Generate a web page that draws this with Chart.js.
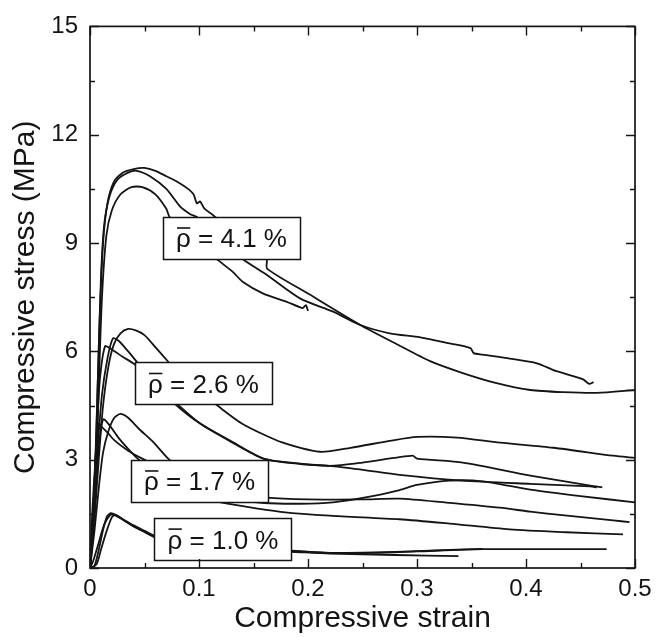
<!DOCTYPE html>
<html>
<head>
<meta charset="utf-8">
<script src="https://cdn.jsdelivr.net/npm/chart.js@4/dist/chart.umd.min.js"></script>
<style>
  html, body { margin: 0; padding: 0; background: #fff; }
  canvas { display: block; }
</style>
</head>
<body>
<canvas id="stressChart" width="665" height="637"></canvas>
<script>
// axis ticks
const xTicks = [0, 0.1, 0.2, 0.3, 0.4, 0.5];
const xTickLabels = ['0', '0.1', '0.2', '0.3', '0.4', '0.5'];
const xMinor = [0.05, 0.15, 0.25, 0.35, 0.45];
const yTicks = [0, 3, 6, 9, 12, 15];
const yTickLabels = ['0', '3', '6', '9', '12', '15'];
const yMinor = [1.5, 4.5, 7.5, 10.5, 13.5];

// rho = 4.1 %
const s41aStrain = [0, 0.003, 0.006, 0.009, 0.012, 0.016, 0.022, 0.03, 0.04, 0.05, 0.06, 0.07, 0.08, 0.09, 0.095, 0.098, 0.101, 0.105, 0.113, 0.13, 0.15, 0.162, 0.1625, 0.2, 0.248, 0.282, 0.312, 0.342, 0.373, 0.404, 0.434, 0.465, 0.5];
const s41aStress = [0, 1.5, 4.0, 7.0, 9.0, 10.1, 10.7, 10.95, 11.05, 11.08, 11.0, 10.85, 10.7, 10.5, 10.35, 10.1, 10.15, 9.95, 9.77, 9.3, 8.85, 8.56, 8.29, 7.6, 6.73, 6.19, 5.73, 5.4, 5.12, 4.93, 4.87, 4.85, 4.93];
const s41bStrain = [0, 0.004, 0.007, 0.01, 0.013, 0.018, 0.025, 0.035, 0.043, 0.055, 0.07, 0.083, 0.092, 0.098, 0.12, 0.14, 0.162, 0.193, 0.223, 0.248, 0.275, 0.303, 0.33, 0.349, 0.352, 0.36, 0.385, 0.41, 0.428, 0.452, 0.458, 0.462];
const s41bStress = [0, 2.0, 5.0, 8.0, 9.5, 10.3, 10.75, 10.95, 11.0, 10.85, 10.5, 10.0, 9.8, 9.72, 9.1, 8.56, 8.12, 7.46, 7.1, 6.73, 6.5, 6.39, 6.22, 6.09, 5.95, 5.91, 5.8, 5.67, 5.45, 5.23, 5.1, 5.15];
const s41cStrain = [0, 0.005, 0.008, 0.011, 0.015, 0.02, 0.028, 0.038, 0.048, 0.06, 0.07, 0.073, 0.09, 0.105, 0.116, 0.131, 0.14, 0.159, 0.18, 0.195, 0.198, 0.2];
const s41cStress = [0, 2.0, 5.0, 7.5, 9.2, 9.9, 10.35, 10.55, 10.55, 10.35, 9.95, 9.72, 9.2, 8.85, 8.56, 8.2, 7.93, 7.6, 7.38, 7.2, 7.28, 7.12];

// rho = 2.6 %
const s26aStrain = [0, 0.004, 0.008, 0.012, 0.017, 0.022, 0.028, 0.035, 0.042, 0.05, 0.061, 0.073, 0.09, 0.115, 0.14, 0.177, 0.211, 0.239, 0.275, 0.3, 0.337, 0.376, 0.425, 0.48, 0.5];
const s26aStress = [0, 1.3, 3.0, 4.5, 5.6, 6.2, 6.5, 6.62, 6.58, 6.45, 6.08, 5.67, 5.1, 4.54, 3.99, 3.47, 3.22, 3.33, 3.52, 3.63, 3.61, 3.47, 3.33, 3.11, 3.05];
const s26bStrain = [0, 0.003, 0.007, 0.011, 0.016, 0.021, 0.026, 0.035, 0.044, 0.06, 0.08, 0.101, 0.128, 0.159, 0.193, 0.22, 0.25, 0.296, 0.3, 0.342, 0.404, 0.459, 0.47];
const s26bStress = [0, 1.4, 3.3, 4.8, 5.8, 6.36, 6.3, 6.0, 5.67, 5.1, 4.54, 4.0, 3.52, 3.03, 2.89, 2.83, 2.92, 3.11, 3.03, 2.92, 2.56, 2.28, 2.23];
const s26cStrain = [0, 0.003, 0.006, 0.009, 0.0138, 0.02, 0.03, 0.041, 0.06, 0.078, 0.1, 0.13, 0.16, 0.193, 0.22, 0.25, 0.284, 0.342, 0.404, 0.459, 0.465];
const s26cStress = [0, 1.6, 3.6, 5.2, 6.14, 6.05, 5.85, 5.64, 5.1, 4.54, 4.02, 3.5, 3.02, 2.88, 2.83, 2.72, 2.58, 2.42, 2.33, 2.26, 2.23];

// rho = 1.7 %
const s17aStrain = [0, 0.004, 0.008, 0.012, 0.017, 0.022, 0.028, 0.035, 0.045, 0.057, 0.072, 0.09, 0.11, 0.131, 0.16, 0.193, 0.223, 0.254, 0.284, 0.3, 0.33, 0.36, 0.404, 0.45, 0.5];
const s17aStress = [0, 1.0, 2.2, 3.2, 3.8, 4.15, 4.27, 4.16, 3.85, 3.52, 3.02, 2.55, 2.15, 1.9, 1.8, 1.78, 1.82, 1.96, 2.16, 2.3, 2.42, 2.4, 2.17, 1.99, 1.82];
const s17bStrain = [0, 0.003, 0.006, 0.009, 0.0122, 0.018, 0.026, 0.035, 0.044, 0.06, 0.08, 0.1, 0.11, 0.147, 0.177, 0.22, 0.284, 0.33, 0.385, 0.437, 0.489];
const s17bStress = [0, 1.2, 2.6, 3.6, 4.12, 3.95, 3.61, 3.3, 3.02, 2.6, 2.2, 1.95, 1.87, 1.68, 1.55, 1.45, 1.35, 1.23, 1.07, 0.99, 0.93];
const s17cStrain = [0, 0.002, 0.005, 0.008, 0.011, 0.016, 0.023, 0.035, 0.048, 0.07, 0.1, 0.13, 0.162, 0.2, 0.25, 0.284, 0.327, 0.376, 0.404, 0.431, 0.48, 0.495];
const s17cStress = [0, 1.5, 3.0, 4.0, 3.9, 3.75, 3.52, 3.25, 3.03, 2.7, 2.35, 2.1, 1.95, 1.9, 1.9, 1.92, 1.81, 1.67, 1.56, 1.47, 1.32, 1.27];

// rho = 1.0 %
const s10aStrain = [0, 0.004, 0.008, 0.012, 0.0155, 0.019, 0.025, 0.032, 0.04, 0.048, 0.06, 0.08, 0.11, 0.15, 0.184, 0.22, 0.26, 0.3, 0.36, 0.42, 0.474];
const s10aStress = [0, 0.05, 0.5, 1.05, 1.42, 1.52, 1.45, 1.3, 1.15, 1.03, 0.86, 0.72, 0.6, 0.52, 0.48, 0.42, 0.42, 0.46, 0.52, 0.52, 0.52];
const s10bStrain = [0, 0.006, 0.01, 0.015, 0.02, 0.023, 0.03, 0.04, 0.05, 0.06, 0.08, 0.11, 0.15, 0.184, 0.22, 0.26, 0.3, 0.36];
const s10bStress = [0, 0.1, 0.5, 1.0, 1.4, 1.47, 1.35, 1.18, 1.03, 0.88, 0.72, 0.6, 0.5, 0.47, 0.42, 0.43, 0.47, 0.53];
const s10cStrain = [0, 0.003, 0.008, 0.013, 0.018, 0.021, 0.028, 0.038, 0.05, 0.06, 0.08, 0.11, 0.15, 0.184, 0.22, 0.28, 0.338];
const s10cStress = [0, 0.2, 0.7, 1.2, 1.45, 1.48, 1.38, 1.2, 1.0, 0.84, 0.7, 0.58, 0.49, 0.45, 0.4, 0.36, 0.33];

const curves = [
  [s41aStrain, s41aStress], [s41bStrain, s41bStress], [s41cStrain, s41cStress],
  [s26aStrain, s26aStress], [s26bStrain, s26bStress], [s26cStrain, s26cStress],
  [s17aStrain, s17aStress], [s17bStrain, s17bStress], [s17cStrain, s17cStress],
  [s10aStrain, s10aStress], [s10bStrain, s10bStress], [s10cStrain, s10cStress]
];

// density labels, centred at (strain, stress)
const labelTexts = ['4.1 %', '2.6 %', '1.7 %', '1.0 %'];
const labelStrain = [0.1298, 0.1041, 0.1005, 0.122];
const labelStress = [9.14, 5.11, 2.41, 0.80];

const ink = '#141414';
const fontFamily = '"Liberation Sans", Arial, Helvetica, sans-serif';

const labelBoxes = {
    id: 'labelBoxes',
    afterDatasetsDraw(chart) {
        const ctx = chart.ctx;
        const xs = chart.scales.x, ys = chart.scales.y;
        ctx.save();
        ctx.font = '26px ' + fontFamily;
        ctx.textBaseline = 'alphabetic';
        ctx.textAlign = 'left';
        for (let i = 0; i < labelTexts.length; i++) {
            const cx = xs.getPixelForValue(labelStrain[i]);
            const cy = ys.getPixelForValue(labelStress[i]);
            const w = 137, h = 42;
            const bx = Math.round(cx - w / 2) + 0.5, by = Math.round(cy - h / 2) + 0.5;
            ctx.fillStyle = '#fff';
            ctx.fillRect(bx, by, w, h);
            ctx.strokeStyle = ink;
            ctx.lineWidth = 1.5;
            ctx.strokeRect(bx, by, w, h);

            const rest = ' = ' + labelTexts[i];
            const rhoW = ctx.measureText('\u03c1').width;
            const total = rhoW + ctx.measureText(rest).width;
            const tx = cx - total / 2;
            const base = cy + 9.5;
            ctx.fillStyle = ink;
            ctx.fillText('\u03c1', tx, base);
            ctx.fillText(rest, tx + rhoW, base);
            // bar over rho
            ctx.beginPath();
            ctx.moveTo(tx + 1, base - 19.5);
            ctx.lineTo(tx + rhoW - 0.5, base - 19.5);
            ctx.lineWidth = 1.6;
            ctx.stroke();
        }
        ctx.restore();
    }
};

const frameTicks = {
    id: 'frameTicks',
    afterDraw(chart) {
        const ctx = chart.ctx;
        const a = chart.chartArea;
        const xs = chart.scales.x, ys = chart.scales.y;
        ctx.save();
        ctx.strokeStyle = ink;
        ctx.lineWidth = 1.7;
        ctx.strokeRect(a.left, a.top, a.right - a.left, a.bottom - a.top);
        ctx.lineWidth = 1.4;
        ctx.beginPath();
        const tickX = (v, len) => {
            const px = Math.round(xs.getPixelForValue(v)) + 0.5;
            ctx.moveTo(px, a.bottom); ctx.lineTo(px, a.bottom - len);
            ctx.moveTo(px, a.top); ctx.lineTo(px, a.top + len);
        };
        const tickY = (v, len) => {
            const py = Math.round(ys.getPixelForValue(v)) + 0.5;
            ctx.moveTo(a.left, py); ctx.lineTo(a.left + len, py);
            ctx.moveTo(a.right, py); ctx.lineTo(a.right - len, py);
        };
        xTicks.forEach(v => tickX(v, 9));
        xMinor.forEach(v => tickX(v, 5));
        yTicks.forEach(v => tickY(v, 9));
        yMinor.forEach(v => tickY(v, 5));
        ctx.stroke();
        ctx.restore();
    }
};

const ctx = document.getElementById('stressChart').getContext('2d');

const stressChart = new Chart(ctx, {
    type: 'scatter',
    data: {
        datasets: curves.map(function (c) {
            return {
                data: c[0].map((x, i) => ({ x: x, y: c[1][i] })),
                showLine: true,
                borderColor: ink,
                borderWidth: 1.8,
                pointRadius: 0,
                tension: 0.25,
                fill: false
            };
        })
    },
    options: {
        responsive: false,
        animation: false,
        layout: {
            padding: { top: 23, right: 30, left: 0, bottom: 0 }
        },
        scales: {
            x: {
                type: 'linear',
                min: 0,
                max: 0.5,
                afterFit: function (scale) { scale.height = 69; },
                afterBuildTicks: function (scale) {
                    scale.ticks = xTicks.map(v => ({ value: v }));
                },
                grid: { display: false, drawTicks: false },
                border: { display: false },
                ticks: {
                    padding: 7,
                    color: ink,
                    font: { family: fontFamily, size: 24 },
                    callback: function (value, index) {
                        return xTickLabels[index];
                    }
                },
                title: {
                    display: true,
                    text: 'Compressive strain',
                    color: ink,
                    font: { family: fontFamily, size: 30 },
                    padding: { top: 0, bottom: 0 }
                }
            },
            y: {
                type: 'linear',
                min: 0,
                max: 15,
                afterFit: function (scale) { scale.width = 90; },
                afterBuildTicks: function (scale) {
                    scale.ticks = yTicks.map(v => ({ value: v }));
                },
                grid: { display: false, drawTicks: false },
                border: { display: false },
                ticks: {
                    padding: 12,
                    color: ink,
                    font: { family: fontFamily, size: 24 },
                    callback: function (value, index) {
                        return yTickLabels[index];
                    }
                },
                title: {
                    display: true,
                    text: 'Compressive stress (MPa)',
                    color: ink,
                    font: { family: fontFamily, size: 30 },
                    padding: { top: 8, bottom: 0 }
                }
            }
        },
        plugins: {
            legend: { display: false },
            tooltip: { enabled: false }
        }
    },
    plugins: [labelBoxes, frameTicks]
});
</script>
</body>
</html>
